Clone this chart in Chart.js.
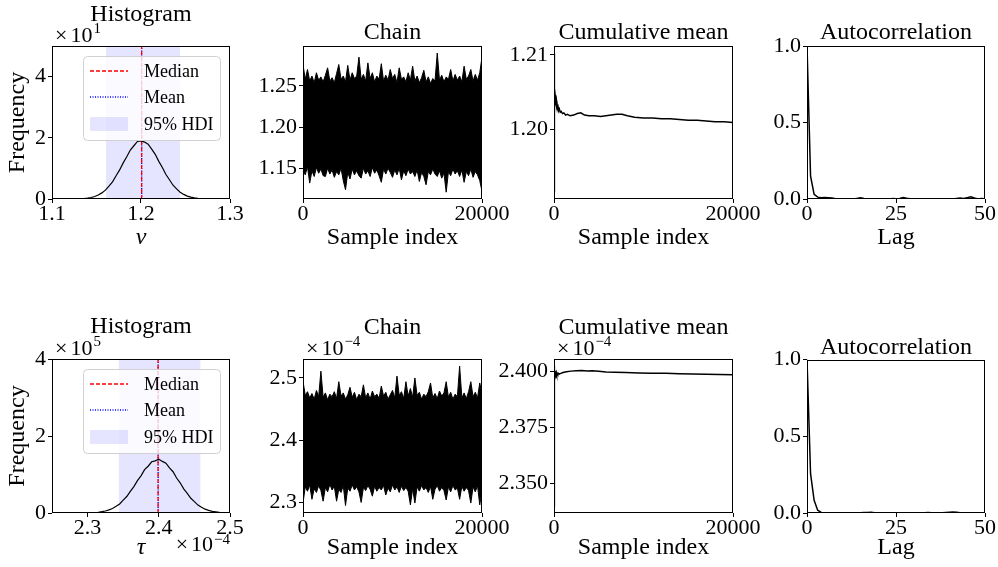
<!DOCTYPE html>
<html>
<head>
<meta charset="utf-8">
<title>MCMC diagnostics</title>
<script src="https://cdn.jsdelivr.net/npm/chart.js@4.4.1/dist/chart.umd.min.js"></script>
<style>
  html, body { margin: 0; padding: 0; background: #fff; overflow: hidden; }
  #fig { position: relative; width: 998px; height: 567px; overflow: hidden; background: #fff; }
  .panel { position: absolute; }
  .panel canvas { display: block; }
</style>
</head>
<body>
<div id="fig"></div>
<script>
const FONT = "'Liberation Serif', 'Times New Roman', serif"

// ν のヒストグラム (縦軸は ×10^1 の表示単位)
const nuBinCenters = [1.120, 1.124, 1.128, 1.132, 1.136, 1.140, 1.144, 1.148, 1.152, 1.156,
  1.160, 1.164, 1.168, 1.172, 1.176, 1.180, 1.184, 1.188, 1.192, 1.196,
  1.200, 1.204, 1.208, 1.212, 1.216, 1.220, 1.224, 1.228, 1.232, 1.236,
  1.240, 1.244, 1.248, 1.252, 1.256, 1.260, 1.264, 1.268, 1.272, 1.276, 1.280]
const nuDensity = [0.001, 0.003, 0.005, 0.009, 0.017, 0.030, 0.050, 0.083, 0.13, 0.20,
  0.29, 0.42, 0.56, 0.76, 0.95, 1.18, 1.38, 1.60, 1.74, 1.88,
  1.90, 1.86, 1.79, 1.63, 1.46, 1.23, 1.03, 0.80, 0.63, 0.45,
  0.33, 0.22, 0.15, 0.095, 0.059, 0.035, 0.020, 0.011, 0.006, 0.003, 0.001]
const nuMedian = 1.2007
const nuMean = 1.2008
const nuHdi = [1.1607, 1.2438]

// τ のヒストグラム (横軸 ×10^-4, 縦軸 ×10^5 の表示単位)
const tauBinCenters = [2.290, 2.295, 2.300, 2.305, 2.310, 2.315, 2.320, 2.325, 2.330, 2.335,
  2.340, 2.345, 2.350, 2.355, 2.360, 2.365, 2.370, 2.375, 2.380, 2.385,
  2.390, 2.395, 2.400, 2.405, 2.410, 2.415, 2.420, 2.425, 2.430, 2.435,
  2.440, 2.445, 2.450, 2.455, 2.460, 2.465, 2.470, 2.475, 2.480, 2.485,
  2.490, 2.495, 2.500]
const tauDensity = [0.001, 0.002, 0.004, 0.007, 0.012, 0.020, 0.034, 0.051, 0.082, 0.118,
  0.175, 0.236, 0.333, 0.428, 0.562, 0.684, 0.842, 0.965, 1.125, 1.215,
  1.330, 1.355, 1.395, 1.340, 1.296, 1.172, 1.072, 0.908, 0.785, 0.626,
  0.510, 0.383, 0.296, 0.206, 0.152, 0.099, 0.069, 0.042, 0.028, 0.015,
  0.010, 0.005, 0.003]
const tauMedian = 2.3990
const tauMean = 2.3991
const tauHdi = [2.3437, 2.4587]

// チェーン (250 サンプルごとの上端・下端)
const chainIndex = [0, 250, 500, 750, 1000, 1250, 1500, 1750, 2000, 2250,
  2500, 2750, 3000, 3250, 3500, 3750, 4000, 4250, 4500, 4750,
  5000, 5250, 5500, 5750, 6000, 6250, 6500, 6750, 7000, 7250,
  7500, 7750, 8000, 8250, 8500, 8750, 9000, 9250, 9500, 9750,
  10000, 10250, 10500, 10750, 11000, 11250, 11500, 11750, 12000, 12250,
  12500, 12750, 13000, 13250, 13500, 13750, 14000, 14250, 14500, 14750,
  15000, 15250, 15500, 15750, 16000, 16250, 16500, 16750, 17000, 17250,
  17500, 17750, 18000, 18250, 18500, 18750, 19000, 19250, 19500, 19750, 20000]
const nuChainUpper = [1.276, 1.258, 1.270, 1.256, 1.262, 1.254, 1.266, 1.257, 1.261, 1.255,
  1.263, 1.272, 1.256, 1.260, 1.254, 1.265, 1.276, 1.258, 1.262, 1.255,
  1.275, 1.257, 1.266, 1.259, 1.262, 1.285, 1.258, 1.264, 1.256, 1.278,
  1.259, 1.266, 1.255, 1.262, 1.258, 1.277, 1.256, 1.263, 1.257, 1.270,
  1.259, 1.264, 1.254, 1.272, 1.258, 1.261, 1.255, 1.266, 1.257, 1.274,
  1.256, 1.262, 1.254, 1.260, 1.269, 1.255, 1.261, 1.253, 1.259, 1.256,
  1.290, 1.257, 1.263, 1.255, 1.261, 1.258, 1.270, 1.256, 1.264, 1.257,
  1.262, 1.255, 1.274, 1.258, 1.262, 1.270, 1.256, 1.264, 1.257, 1.266, 1.285]
const nuChainLower = [1.148, 1.142, 1.152, 1.132, 1.147, 1.140, 1.151, 1.144, 1.149, 1.141,
  1.140, 1.150, 1.143, 1.148, 1.139, 1.146, 1.142, 1.150, 1.135, 1.124,
  1.145, 1.137, 1.149, 1.142, 1.147, 1.141, 1.138, 1.150, 1.143, 1.147,
  1.140, 1.151, 1.144, 1.148, 1.141, 1.133, 1.149, 1.143, 1.150, 1.145,
  1.139, 1.148, 1.142, 1.150, 1.136, 1.147, 1.141, 1.149, 1.143, 1.146,
  1.140, 1.148, 1.134, 1.145, 1.140, 1.130, 1.146, 1.142, 1.149, 1.143,
  1.140, 1.147, 1.138, 1.144, 1.121, 1.146, 1.141, 1.149, 1.143, 1.147,
  1.140, 1.148, 1.133, 1.146, 1.141, 1.149, 1.139, 1.146, 1.142, 1.135, 1.122]
const tauChainUpper = [2.495, 2.472, 2.478, 2.468, 2.475, 2.466, 2.480, 2.470, 2.511, 2.469,
  2.476, 2.465, 2.474, 2.470, 2.478, 2.467, 2.494, 2.471, 2.476, 2.466,
  2.473, 2.485, 2.469, 2.477, 2.465, 2.474, 2.470, 2.489, 2.468, 2.476,
  2.466, 2.479, 2.470, 2.474, 2.467, 2.487, 2.471, 2.477, 2.466, 2.473,
  2.480, 2.468, 2.503, 2.472, 2.478, 2.467, 2.494, 2.471, 2.483, 2.469,
  2.500, 2.472, 2.477, 2.466, 2.474, 2.470, 2.478, 2.492, 2.468, 2.475,
  2.467, 2.479, 2.471, 2.476, 2.494, 2.469, 2.477, 2.466, 2.474, 2.470,
  2.519, 2.468, 2.476, 2.467, 2.478, 2.494, 2.470, 2.477, 2.468, 2.492, 2.475]
const tauChainLower = [2.299, 2.325, 2.318, 2.328, 2.305, 2.322, 2.316, 2.327, 2.319, 2.302,
  2.324, 2.317, 2.329, 2.320, 2.326, 2.302, 2.321, 2.316, 2.327, 2.295,
  2.323, 2.318, 2.328, 2.320, 2.325, 2.317, 2.300, 2.324, 2.319, 2.327,
  2.321, 2.310, 2.326, 2.318, 2.324, 2.320, 2.327, 2.312, 2.323, 2.317,
  2.328, 2.320, 2.325, 2.316, 2.326, 2.319, 2.324, 2.318, 2.296, 2.322,
  2.299, 2.325, 2.318, 2.327, 2.320, 2.324, 2.316, 2.326, 2.305, 2.321,
  2.327, 2.318, 2.324, 2.319, 2.304, 2.325, 2.317, 2.327, 2.320, 2.323,
  2.305, 2.326, 2.318, 2.324, 2.319, 2.299, 2.325, 2.317, 2.327, 2.296, 2.320]

// 累積平均
const nuCumIndex = [0, 1, 15, 30, 50, 75, 100, 130, 160, 190, 220, 260, 300, 350, 400, 460, 520, 600, 700, 800,
  950, 1100, 1300, 1500, 1800, 2200, 2600, 3000, 3400, 3900, 4500, 5200, 5800, 6400, 7000, 7600, 8200,
  9000, 10000, 11000, 12000, 13000, 14000, 15000, 16000, 17000, 18000, 19000, 20000]
const nuCumMean = [1.1916, 1.2102, 1.2098, 1.2088, 1.2075, 1.2066, 1.2055, 1.2046, 1.2040, 1.2043, 1.2036, 1.2039, 1.2031, 1.2033, 1.2028, 1.2030, 1.2025, 1.2027, 1.2023, 1.2024,
  1.2021, 1.2022, 1.2019, 1.2020, 1.2018, 1.2019, 1.2021, 1.2022, 1.2019, 1.2018, 1.2018, 1.2017, 1.2018, 1.2019, 1.2020, 1.2020, 1.2018,
  1.2016, 1.2015, 1.2015, 1.2014, 1.2014, 1.2013, 1.2012, 1.2012, 1.2011, 1.2010, 1.2010, 1.2009]
const tauCumIndex = [0, 1, 20, 40, 60, 90, 120, 160, 200, 250, 300, 350, 420, 500, 600, 700,
  1000, 1400, 1900, 2500, 3100, 3700, 4300, 5000, 5800, 6800, 8000, 9500,
  11000, 12500, 14000, 15500, 17000, 18500, 20000]
const tauCumMean = [2.3400, 2.4024, 2.3980, 2.4014, 2.3976, 2.4008, 2.3982, 2.4000, 2.3984, 2.3995, 2.3986, 2.3992, 2.3987, 2.3991, 2.3988, 2.3990,
  2.3995, 2.3998, 2.4001, 2.4003, 2.4004, 2.4002, 2.4003, 2.4000, 2.3997, 2.3996, 2.3995, 2.3993,
  2.3992, 2.3991, 2.3989, 2.3988, 2.3987, 2.3986, 2.3985]

// 自己相関
const lags = [0, 1, 2, 3, 4, 5, 6, 7, 8, 9, 10, 11, 12, 13, 14, 15, 16, 17, 18, 19, 20,
  21, 22, 23, 24, 25, 26, 27, 28, 29, 30, 31, 32, 33, 34, 35, 36, 37, 38, 39, 40,
  41, 42, 43, 44, 45, 46, 47, 48, 49, 50]
const nuAcf = [1.0, 0.15, 0.03, 0.012, 0.008, 0.010, 0.009, 0.006, 0.002, 0.0, 0.0,
  -0.002, 0.001, 0.0, 0.004, 0.008, 0.003, -0.001, -0.002, 0.001, 0.0,
  -0.003, 0.002, -0.001, 0.003, 0.002, 0.004, 0.009, 0.005, 0.002, -0.001,
  -0.002, 0.0, -0.003, -0.001, 0.001, -0.002, 0.0, -0.001, 0.002, -0.002,
  0.0, 0.003, 0.006, 0.004, 0.009, 0.014, 0.006, 0.0, 0.003, 0.001]
const tauAcf = [1.0, 0.256, 0.083, 0.018, 0.004, 0.001, 0.0, 0.001, -0.001, 0.0, 0.001,
  0.002, 0.0, 0.001, -0.001, 0.002, 0.003, 0.004, 0.005, 0.002, 0.0,
  -0.001, 0.001, 0.0, -0.002, 0.001, 0.0, -0.001, 0.001, 0.002, 0.0,
  -0.001, 0.001, 0.002, 0.003, 0.001, 0.0, 0.002, 0.001, 0.003, 0.005,
  0.006, 0.005, 0.002, 0.0, -0.001, 0.001, 0.0, 0.002, 0.001, 0.0]

// 目盛りラベル
const nuHistXTicks = ['1.1', '1.2', '1.3']
const tauHistXTicks = ['2.3', '2.4', '2.5']
const histYTicks = ['0', '2', '4']
const sampleTicks = ['0', '20000']
const nuChainTicks = ['1.15', '1.20', '1.25']
const tauChainTicks = ['2.3', '2.4', '2.5']
const nuCumTicks = ['1.20', '1.21']
const tauCumTicks = ['2.350', '2.375', '2.400']
const lagTicks = ['0', '25', '50']
const acfTicks = ['0.0', '0.5', '1.0']

// レイアウト (プロット領域のピクセル座標)
const ROWS = [
  { top: 46, bottom: 199, boxTop: 0, xTitleY: 237.5 },
  { top: 359, bottom: 513, boxTop: 290, xTitleY: 548 },
]
const COLS = [
  { left: 52, right: 230, margin: 52 },
  { left: 303, right: 482, margin: 70 },
  { left: 554, right: 733, margin: 70 },
  { left: 807, right: 985, margin: 70 },
]
const MARGIN_RIGHT = 35
const MARGIN_BOTTOM = 60

Chart.defaults.font.family = FONT
Chart.defaults.color = "#000"

const pts = (xs, ys) => xs.map((x, i) => ({ x, y: ys[i] }))

function axis(min, max, labels, sizeKey, size, tickPadding, title) {
  return {
    type: "linear",
    min,
    max,
    afterBuildTicks: (s) => {
      s.ticks = labels.map((t) => ({ value: parseFloat(t) }))
    },
    afterFit: (s) => {
      s[sizeKey] = size
    },
    ticks: {
      autoSkip: false,
      maxRotation: 0,
      padding: tickPadding,
      color: "#000",
      font: { size: 22, lineHeight: 1 },
      callback: (v, i) => labels[i],
    },
    grid: { drawOnChartArea: false, drawTicks: true, tickLength: 4, color: "#000", lineWidth: 1 },
    border: { display: false },
    title,
  }
}

// 枠線・凡例・指数表記
function decor(p) {
  return {
    id: "decor",
    afterDatasetsDraw(chart) {
      const { ctx, chartArea: a } = chart
      ctx.save()
      const x0 = Math.round(a.left) + 0.5
      const y0 = Math.round(a.top) + 0.5
      const x1 = Math.round(a.right) - 0.5
      const y1 = Math.round(a.bottom) - 0.5
      ctx.strokeStyle = "#000"
      ctx.lineWidth = 1
      ctx.strokeRect(x0, y0, x1 - x0, y1 - y0)
      if (p.legend) drawLegend(chart)
      ctx.restore()
    },
    afterDraw(chart) {
      const { ctx, chartArea: a } = chart
      ctx.save()
      ;(p.offsets || []).forEach((o) => drawOffset(ctx, a, o))
      ctx.restore()
    },
  }
}

function drawLegend(chart) {
  const { ctx, chartArea: a } = chart
  const x = a.left + 31
  const y = a.top + 10
  ctx.beginPath()
  ctx.roundRect(x + 0.5, y + 0.5, 137, 84, 4)
  ctx.fillStyle = "rgba(255,255,255,0.8)"
  ctx.fill()
  ctx.strokeStyle = "#d0d0d0"
  ctx.lineWidth = 1
  ctx.stroke()
  const rows = [15, 41, 68]
  chart.data.datasets.filter((d) => d.label).forEach((d, i) => {
    const cy = y + rows[i]
    if (d.patch) {
      ctx.fillStyle = d.backgroundColor
      ctx.fillRect(x + 7, cy - 7, 38, 14)
    } else {
      ctx.beginPath()
      ctx.setLineDash(d.borderDash || [])
      ctx.strokeStyle = d.borderColor
      ctx.lineWidth = 1.5
      ctx.moveTo(x + 7, cy)
      ctx.lineTo(x + 45, cy)
      ctx.stroke()
      ctx.setLineDash([])
    }
    ctx.fillStyle = "#000"
    ctx.font = `18px ${FONT}`
    ctx.textAlign = "left"
    ctx.textBaseline = "middle"
    ctx.fillText(d.label, x + 61, cy + 1)
  })
}

function drawOffset(ctx, a, o) {
  ctx.fillStyle = "#000"
  ctx.textAlign = "left"
  ctx.textBaseline = "alphabetic"
  ctx.font = `22px ${FONT}`
  const wTimes = ctx.measureText("×").width
  const wTen = ctx.measureText("10").width
  ctx.font = `15px ${FONT}`
  const wSup = ctx.measureText(o.sup).width
  const total = wTimes + 3 + wTen + 1 + wSup
  const x = o.at === "bottom" ? a.right - total : a.left + 3
  const y = o.at === "bottom" ? a.bottom + 38 : a.top - 4
  ctx.font = `22px ${FONT}`
  ctx.fillText("×", x, y)
  ctx.fillText("10", x + wTimes + 3, y)
  ctx.font = `15px ${FONT}`
  ctx.fillText(o.sup, x + wTimes + 3 + wTen + 1, y - (o.at === "bottom" ? 7 : 9))
}

function histDatasets(centers, density, median, mean, hdi, yMax) {
  return [
    { data: pts(centers, density), borderColor: "#000", borderWidth: 1.2, fill: false },
    { label: "Median", data: [{ x: median, y: 0 }, { x: median, y: yMax }], borderColor: "#ff0000", borderDash: [4, 2], borderWidth: 1.3 },
    { label: "Mean", data: [{ x: mean, y: 0 }, { x: mean, y: yMax }], borderColor: "#0000ff", borderDash: [1, 1.5], borderWidth: 1.3 },
    { label: "95% HDI", patch: true, data: [{ x: hdi[0], y: yMax }, { x: hdi[1], y: yMax }], borderWidth: 0, borderColor: "rgba(0,0,0,0)", backgroundColor: "rgba(0,0,255,0.1)", fill: "origin" },
  ]
}

function chainDatasets(upper, lower) {
  return [
    { data: pts(chainIndex, upper), borderColor: "#000", borderWidth: 1, backgroundColor: "#000", fill: "+1" },
    { data: pts(chainIndex, lower), borderColor: "#000", borderWidth: 1, fill: false },
  ]
}

function lineDataset(xs, ys, width) {
  return [{ data: pts(xs, ys), borderColor: "#000", borderWidth: width, fill: false }]
}

function createPanel(p) {
  const row = ROWS[p.row]
  const col = COLS[p.col]
  const left = col.left - col.margin
  const width = col.right - left + MARGIN_RIGHT
  const height = row.bottom - row.boxTop + MARGIN_BOTTOM
  const marginTop = row.top - row.boxTop

  const div = document.createElement("div")
  div.className = "panel"
  div.style.left = left + "px"
  div.style.top = row.boxTop + "px"
  const canvas = document.createElement("canvas")
  canvas.width = width
  canvas.height = height
  canvas.style.width = width + "px"
  canvas.style.height = height + "px"
  div.appendChild(canvas)
  document.getElementById("fig").appendChild(div)

  const padTop = Math.max(0, p.titleY - row.boxTop - 12)
  const padBottom = Math.max(0, marginTop - 24 - padTop)
  const xTitlePad = height - (row.xTitleY - row.boxTop) - 12

  const xTitle = {
    display: true,
    text: p.xTitle,
    color: "#000",
    font: { size: 24, lineHeight: 1, style: p.xItalic ? "italic" : "normal" },
    padding: { top: 0, bottom: xTitlePad },
  }
  const yTitle = p.yTitle
    ? { display: true, text: p.yTitle, color: "#000", font: { size: 24, lineHeight: 1 }, padding: { top: 6, bottom: 0 } }
    : { display: false }

  new Chart(canvas, {
    type: "line",
    data: { datasets: p.datasets },
    options: {
      responsive: false,
      animation: false,
      events: [],
      layout: { padding: { top: 0, right: MARGIN_RIGHT, bottom: 0, left: 0 } },
      elements: { point: { radius: 0 }, line: { tension: 0 } },
      plugins: {
        legend: { display: false },
        tooltip: { enabled: false },
        title: {
          display: true,
          text: p.title,
          fullSize: false,
          color: "#000",
          font: { size: 24, weight: "normal", lineHeight: 1 },
          padding: { top: padTop, bottom: padBottom },
        },
      },
      scales: {
        x: axis(p.x[0], p.x[1], p.xTicks, "height", MARGIN_BOTTOM, 0, xTitle),
        y: axis(p.y[0], p.y[1], p.yTicks, "width", col.margin, 2, yTitle),
      },
    },
    plugins: [decor(p)],
  })
}

// 上段: ν
createPanel({
  row: 0, col: 0, titleY: 15, title: "Histogram",
  x: [1.1, 1.3], xTicks: nuHistXTicks, y: [0, 5], yTicks: histYTicks,
  xTitle: "ν", xItalic: true, yTitle: "Frequency",
  legend: true, offsets: [{ sup: "1", at: "top" }],
  datasets: histDatasets(nuBinCenters, nuDensity, nuMedian, nuMean, nuHdi, 5),
})
createPanel({
  row: 0, col: 1, titleY: 33, title: "Chain",
  x: [0, 20000], xTicks: sampleTicks, y: [1.1127, 1.2985], yTicks: nuChainTicks,
  xTitle: "Sample index",
  datasets: chainDatasets(nuChainUpper, nuChainLower),
})
createPanel({
  row: 0, col: 2, titleY: 33, title: "Cumulative mean",
  x: [0, 20000], xTicks: sampleTicks, y: [1.1906, 1.2112], yTicks: nuCumTicks,
  xTitle: "Sample index",
  datasets: lineDataset(nuCumIndex, nuCumMean, 1.5),
})
createPanel({
  row: 0, col: 3, titleY: 33, title: "Autocorrelation",
  x: [0, 50], xTicks: lagTicks, y: [0, 1], yTicks: acfTicks,
  xTitle: "Lag",
  datasets: lineDataset(lags, nuAcf, 1.5),
})

// 下段: τ
createPanel({
  row: 1, col: 0, titleY: 327, title: "Histogram",
  x: [2.25, 2.5], xTicks: tauHistXTicks, y: [0, 4], yTicks: histYTicks,
  xTitle: "τ", xItalic: true, yTitle: "Frequency",
  legend: true, offsets: [{ sup: "5", at: "top" }, { sup: "−4", at: "bottom" }],
  datasets: histDatasets(tauBinCenters, tauDensity, tauMedian, tauMean, tauHdi, 4),
})
createPanel({
  row: 1, col: 1, titleY: 328, title: "Chain",
  x: [0, 20000], xTicks: sampleTicks, y: [2.283, 2.5305], yTicks: tauChainTicks,
  xTitle: "Sample index", offsets: [{ sup: "−4", at: "top" }],
  datasets: chainDatasets(tauChainUpper, tauChainLower),
})
createPanel({
  row: 1, col: 2, titleY: 328, title: "Cumulative mean",
  x: [0, 20000], xTicks: sampleTicks, y: [2.3369, 2.4055], yTicks: tauCumTicks,
  xTitle: "Sample index", offsets: [{ sup: "−4", at: "top" }],
  datasets: lineDataset(tauCumIndex, tauCumMean, 1.5),
})
createPanel({
  row: 1, col: 3, titleY: 347.5, title: "Autocorrelation",
  x: [0, 50], xTicks: lagTicks, y: [0, 1], yTicks: acfTicks,
  xTitle: "Lag",
  datasets: lineDataset(lags, tauAcf, 1.5),
})
</script>
</body>
</html>
